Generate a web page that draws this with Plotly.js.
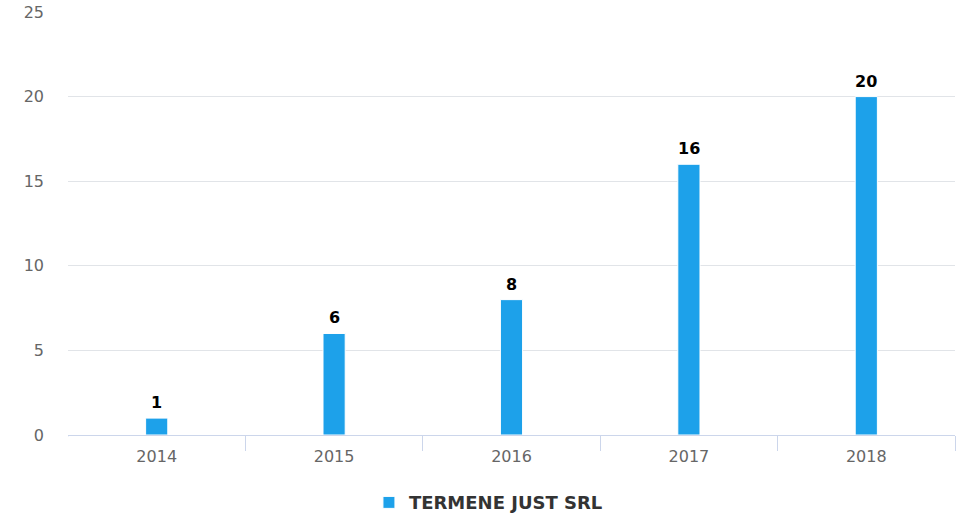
<!DOCTYPE html>
<html>
<head>
<meta charset="utf-8">
<script src="https://cdn.plot.ly/plotly-3.0.1.min.js"></script>
<style>html,body{margin:0;padding:0;background:#fff;}#chart{width:960px;height:519px;}</style>
</head>
<body>
<div id="chart"></div>
<script>
const years = ["2014", "2015", "2016", "2017", "2018"];
const values = [1, 6, 8, 16, 20];
const seriesName = "TERMENE JUST SRL";
const yTicks = [0, 5, 10, 15, 20, 25];

const trace = {
  type: "bar",
  x: years,
  y: values,
  name: seriesName,
  marker: { color: "#1da1ea", line: { color: "#ffffff", width: 1 } },
  showlegend: true,
  hoverinfo: "x+y"
};

// data labels placed at each category index on the category axis
const labelAnnotations = years.map((yr, i) => ({
  x: i,
  y: values[i],
  xref: "x",
  yref: "y",
  text: String(values[i]),
  showarrow: false,
  yanchor: "bottom",
  yshift: 4,
  font: { family: "DejaVu Sans", size: 16, color: "#000000", weight: "bold" }
}));

const layout = {
  width: 960,
  height: 519,
  margin: { l: 68, r: 5, t: 12, b: 84, autoexpand: false },
  paper_bgcolor: "#ffffff",
  plot_bgcolor: "#ffffff",
  font: { family: "DejaVu Sans", color: "#666666", size: 15 },
  bargap: 0.875,
  xaxis: {
    type: "category",
    categoryorder: "array",
    categoryarray: years,
    tickson: "boundaries",
    ticks: "outside",
    ticklen: 15,
    tickwidth: 1,
    tickcolor: "#ccd6eb",
    showline: true,
    linecolor: "#ccd6eb",
    linewidth: 1,
    showgrid: false,
    ticklabelstandoff: 7,
    tickfont: { family: "DejaVu Sans", size: 16, color: "#666666" },
    fixedrange: true
  },
  yaxis: {
    range: [0, 25],
    tickvals: yTicks,
    ticktext: yTicks.map(String),
    showgrid: true,
    gridcolor: "#e1e4e8",
    gridwidth: 1,
    zeroline: false,
    showline: false,
    ticks: "",
    ticklabelstandoff: 23,
    tickfont: { family: "DejaVu Sans", size: 16, color: "#666666" },
    fixedrange: true
  },
  showlegend: true,
  legend: {
    orientation: "h",
    x: 0.474,
    xanchor: "center",
    y: -0.16,
    yanchor: "middle",
    font: { family: "DejaVu Sans", size: 18, color: "#333333", weight: "bold" }
  },
  annotations: labelAnnotations,
  shapes: [
    { type: "rect", xref: "paper", yref: "paper", x0: -0.01, x1: 0.0015, y0: -0.05, y1: -0.003,
      fillcolor: "#ffffff", line: { width: 0 }, layer: "above" }
  ]
};

Plotly.newPlot("chart", [trace], layout, { displayModeBar: false });
</script>
</body>
</html>
